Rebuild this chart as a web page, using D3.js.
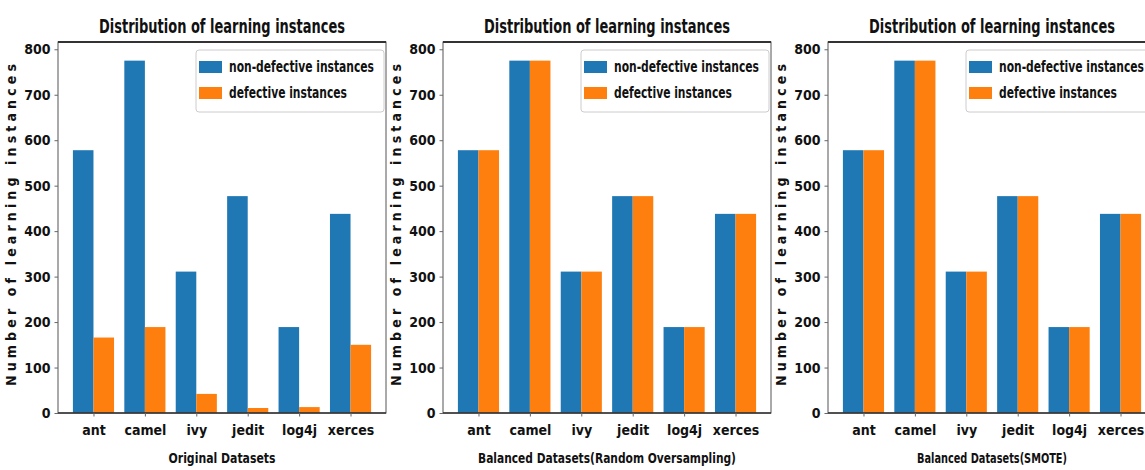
<!DOCTYPE html>
<html lang="en">
<head>
<meta charset="UTF-8">
<title>Distribution of learning instances</title>
<script src="https://d3js.org/d3.v7.min.js"></script>
<style>
  body { margin: 0; background: #fff; }
  text { font-family: "DejaVu Sans Condensed", "DejaVu Sans", sans-serif; font-weight: bold; fill: #111; }
</style>
</head>
<body>
<svg width="1145" height="470"></svg>
<script>
// data
const datasets = ["ant", "camel", "ivy", "jedit", "log4j", "xerces"];
const origNonDefective = [578, 775, 311, 477, 189, 438];
const origDefective = [166, 189, 42, 11, 13, 150];
const balancedNonDefective = [578, 775, 311, 477, 189, 438];
const balancedDefective = [578, 775, 311, 477, 189, 438];
const yTicks = [0, 100, 200, 300, 400, 500, 600, 700, 800];
const seriesNames = ["non-defective instances", "defective instances"];
const colors = ["#1f77b4", "#ff7f0e"];

const panels = [
  {left: 58, xlabel: "Original Datasets", xlen: 107, nd: origNonDefective, d: origDefective},
  {left: 443, xlabel: "Balanced Datasets(Random Oversampling)", xlen: 258, nd: balancedNonDefective, d: balancedDefective},
  {left: 828, xlabel: "Balanced Datasets(SMOTE)", xlen: 150, nd: balancedNonDefective, d: balancedDefective}
];

const svg = d3.select("svg");
const axTop = 42, axBottom = 413, w = 328, barW = 0.4;

const y = d3.scaleLinear().domain([0, 816]).range([axBottom, axTop]);

panels.forEach(p => {
  const g = svg.append("g");
  const x = d3.scaleLinear().domain([-0.69, 5.69]).range([p.left, p.left + w]);

  // bars
  g.selectAll(".nd").data(p.nd).enter().append("rect")
    .attr("x", (v, i) => x(i - barW)).attr("width", x(barW) - x(0))
    .attr("y", v => y(v)).attr("height", v => y(0) - y(v))
    .attr("fill", colors[0]);
  g.selectAll(".d").data(p.d).enter().append("rect")
    .attr("x", (v, i) => x(i)).attr("width", x(barW) - x(0))
    .attr("y", v => y(v)).attr("height", v => y(0) - y(v))
    .attr("fill", colors[1]);

  // frame
  g.append("rect").attr("x", p.left).attr("y", axTop).attr("width", w).attr("height", axBottom - axTop)
    .attr("fill", "none").attr("stroke", "#555").attr("stroke-width", 1);
  g.append("line").attr("x1", p.left).attr("x2", p.left + w).attr("y1", axTop).attr("y2", axTop)
    .attr("stroke", "#333").attr("stroke-width", 2);
  g.append("line").attr("x1", p.left).attr("x2", p.left + w).attr("y1", axBottom).attr("y2", axBottom)
    .attr("stroke", "#333").attr("stroke-width", 1.5);

  // y axis
  const ya = g.append("g").attr("transform", `translate(${p.left},0)`)
    .call(d3.axisLeft(y).tickValues(yTicks).tickSize(3.5).tickPadding(4));
  ya.select(".domain").remove();
  ya.selectAll("line").attr("stroke", "#666");
  ya.selectAll("text").attr("font-size", 14).attr("font-family", null).attr("fill", "#111");

  // x axis
  const xa = g.append("g").attr("transform", `translate(0,${axBottom})`)
    .call(d3.axisBottom(x).tickValues(d3.range(datasets.length)).tickFormat(i => datasets[i]).tickSize(3.5).tickPadding(9));
  xa.select(".domain").remove();
  xa.selectAll("line").attr("stroke", "#666");
  xa.selectAll("text").attr("font-size", 14).attr("font-family", null).attr("fill", "#111");

  // title
  g.append("text").attr("x", p.left + w / 2).attr("y", 33).attr("text-anchor", "middle")
    .attr("font-size", 19).attr("textLength", 246).attr("lengthAdjust", "spacingAndGlyphs")
    .text("Distribution of learning instances");

  // x label
  g.append("text").attr("x", p.left + w / 2).attr("y", 463).attr("text-anchor", "middle")
    .attr("font-size", 14.5).attr("textLength", p.xlen).attr("lengthAdjust", "spacingAndGlyphs")
    .text(p.xlabel);

  // y label
  g.append("text").attr("transform", `translate(${p.left - 42},225) rotate(-90)`)
    .attr("text-anchor", "middle").attr("font-family", "DejaVu Sans")
    .attr("font-size", 14).attr("textLength", 322).attr("lengthAdjust", "spacing")
    .text("Number of learning instances");

  // legend
  const lg = g.append("g").attr("transform", `translate(${p.left + 138},50)`);
  lg.append("rect").attr("width", 188).attr("height", 62).attr("rx", 3)
    .attr("fill", "white").attr("fill-opacity", 0.8).attr("stroke", "#ccc");
  seriesNames.forEach((s, i) => {
    lg.append("rect").attr("x", 3).attr("y", 11 + i * 26).attr("width", 23).attr("height", 12)
      .attr("fill", colors[i]);
    lg.append("text").attr("x", 33).attr("y", 22 + i * 26)
      .attr("font-size", 15).attr("textLength", i === 0 ? 145 : 118).attr("lengthAdjust", "spacingAndGlyphs")
      .text(s);
  });
});
</script>
</body>
</html>
